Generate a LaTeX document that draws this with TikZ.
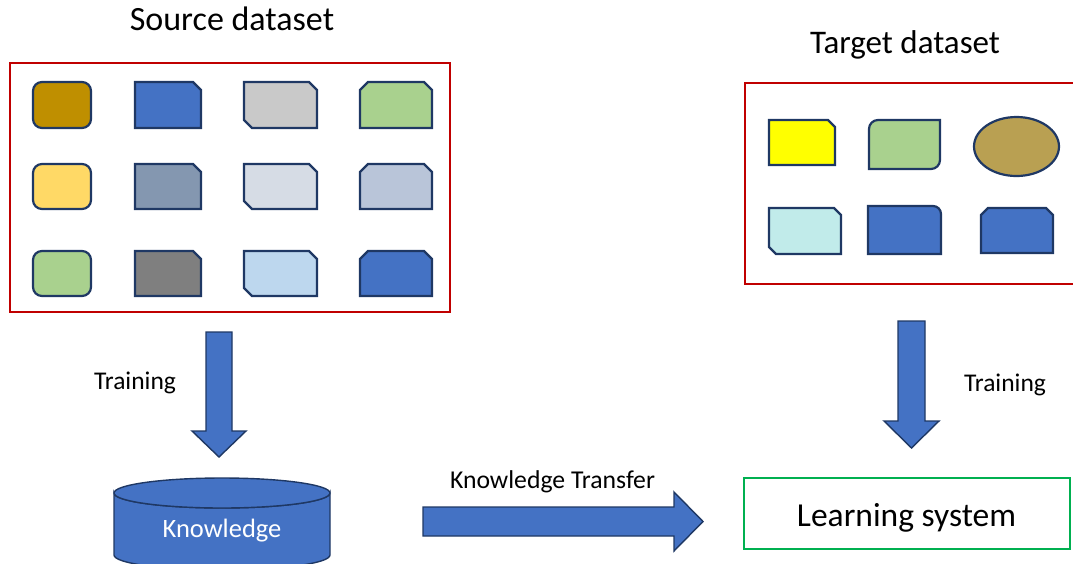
\documentclass[tikz,border=0pt]{standalone}
\usepackage{fontspec}
\setmainfont{Carlito}

\definecolor{navy}{HTML}{1F3864}
\definecolor{blockblue}{HTML}{4472C4}
\definecolor{boxred}{HTML}{C00000}
\definecolor{boxgreen}{HTML}{00B050}
\definecolor{gold}{HTML}{BF8F00}
\definecolor{lightgold}{HTML}{FFD966}
\definecolor{leaf}{HTML}{A9D18E}
\definecolor{slate}{HTML}{8497B0}
\definecolor{silver}{HTML}{C9C9C9}
\definecolor{mist}{HTML}{D6DCE5}
\definecolor{steel}{HTML}{B9C5D9}
\definecolor{graphite}{HTML}{7F7F7F}
\definecolor{sky}{HTML}{BDD7EE}
\definecolor{lemon}{HTML}{FFFF00}
\definecolor{olive}{HTML}{B9A052}
\definecolor{aqua}{HTML}{C1EBEA}

% cell outlines: style, x1, y1, x2, y2 [, corner size]
\newcommand\cellRound[5]{\draw[cell,#1,rounded corners=9pt] (#2,#3) rectangle (#4,#5);}
\newcommand\cellSnipOne[6]{\draw[cell,#1] (#2,#3) -- (#4-#6,#3) -- (#4,#3+#6) -- (#4,#5) -- (#2,#5) -- cycle;}
\newcommand\cellSnipDiag[6]{\draw[cell,#1] (#2,#3) -- (#4-#6,#3) -- (#4,#3+#6) -- (#4,#5) -- (#2+#6,#5) -- (#2,#5-#6) -- cycle;}
\newcommand\cellSnipTop[6]{\draw[cell,#1] (#2+#6,#3) -- (#4-#6,#3) -- (#4,#3+#6) -- (#4,#5) -- (#2,#5) -- (#2,#3+#6) -- cycle;}
% rounded top-left and bottom-right corners (circular-like cubic corners)
\newcommand\cellRoundDiag[6]{\draw[cell,#1] (#2,#3+#6) .. controls (#2,#3+0.448*#6) and (#2+0.448*#6,#3) .. (#2+#6,#3) -- (#4,#3) -- (#4,#5-#6) .. controls (#4,#5-0.448*#6) and (#4-0.448*#6,#5) .. (#4-#6,#5) -- (#2,#5) -- cycle;}
% rounded top-right corner only
\newcommand\cellRoundOne[6]{\draw[cell,#1] (#2,#3) -- (#4-#6,#3) .. controls (#4-0.448*#6,#3) and (#4,#3+0.448*#6) .. (#4,#3+#6) -- (#4,#5) -- (#2,#5) -- cycle;}

\tikzset{
  cell/.style={draw=navy, line width=2.2pt, line join=miter},
  frame/.style={draw=boxred, line width=2pt, inner sep=0pt},
  blockarrow/.style={fill=blockblue, draw=navy, line width=1.4pt, line join=miter},
  label/.style={anchor=base, inner sep=0pt, text=black},
}

\begin{document}
\begin{tikzpicture}[x=1pt,y=-1pt]
\useasboundingbox (0,0) rectangle (1073,563);
\clip (0,0) rectangle (1073,563);

% titles
\node[label, font=\fontsize{34}{40}\selectfont] (srctitle) at (232,30) {Source dataset};
\node[label, font=\fontsize{33}{40}\selectfont] (tgttitle) at (905,53) {Target dataset};

% dataset frames
\node[frame, minimum width=440pt, minimum height=249pt] (src) at (230,187.5) {};
\node[frame, minimum width=335pt, minimum height=201pt] (tgt) at (912.5,183.5) {};

% source samples
\cellRound{fill=gold}{33}{82}{91}{128}
\cellSnipOne{fill=blockblue}{135}{82}{201}{128}{8}
\cellSnipDiag{fill=silver}{244}{82}{317}{128}{8}
\cellSnipTop{fill=leaf}{360}{82}{432}{128}{8}

\cellRound{fill=lightgold}{33}{164}{91}{209}
\cellSnipOne{fill=slate}{135}{164}{201}{209}{8}
\cellSnipDiag{fill=mist}{244}{164}{317}{209}{8}
\cellSnipTop{fill=steel}{360}{164}{432}{209}{8}

\cellRound{fill=leaf}{33}{251}{91}{296}
\cellSnipOne{fill=graphite}{135}{251}{201}{296}{8}
\cellSnipDiag{fill=sky}{244}{251}{317}{296}{8}
\cellSnipTop{fill=blockblue}{360}{251}{432}{296}{8}

% target samples
\cellSnipOne{fill=lemon}{769}{120}{835}{165}{7}
\cellRoundDiag{fill=leaf}{869}{120}{940}{169}{9}
\draw[cell, fill=olive] (1016.5,146.5) ellipse [x radius=42.5pt, y radius=29.5pt];
\cellSnipDiag{fill=aqua}{769}{208}{841}{254}{7}
\cellRoundOne{fill=blockblue}{868}{206}{941}{254}{8}
\cellSnipTop{fill=blockblue}{981}{208}{1053}{253}{7}

% training arrows
\draw[blockarrow] (206,332) -- (232,332) -- (232,431) -- (246,431) -- (219,457)
  -- (192,431) -- (206,431) -- cycle;
\node[label, font=\fontsize{25.5}{30}\selectfont] (trainsrc) at (135,389) {Training};

\draw[blockarrow] (898,321) -- (925,321) -- (925,421) -- (939,421) -- (911.5,448)
  -- (884,421) -- (898,421) -- cycle;
\node[label, font=\fontsize{25.5}{30}\selectfont] (traintgt) at (1005,391) {Training};

% knowledge store
\draw[blockarrow] (114,493) -- (114,555)
  arc[start angle=180, end angle=360, x radius=108pt, y radius=15pt]
  -- (330,493)
  arc[start angle=0, end angle=-180, x radius=108pt, y radius=15pt] -- cycle;
\draw[blockarrow] (222,493) ellipse [x radius=108pt, y radius=15pt];
\node[label, text=white, font=\fontsize{26.5}{30}\selectfont] (knowledge) at (222,537) {Knowledge};

% transfer arrow
\draw[blockarrow] (423,507) -- (674,507) -- (674,492) -- (703,521.5) -- (674,551)
  -- (674,536) -- (423,536) -- cycle;
\node[label, font=\fontsize{25.7}{30}\selectfont] (transfer) at (552.5,488) {Knowledge Transfer};

% learning system
\node[draw=boxgreen, line width=2pt, inner sep=0pt, minimum width=326pt, minimum height=71pt] (learner) at (907,513.5) {};
\node[label, font=\fontsize{33.5}{40}\selectfont] (learnertext) at (906.5,526) {Learning system};
\end{tikzpicture}
\end{document}
